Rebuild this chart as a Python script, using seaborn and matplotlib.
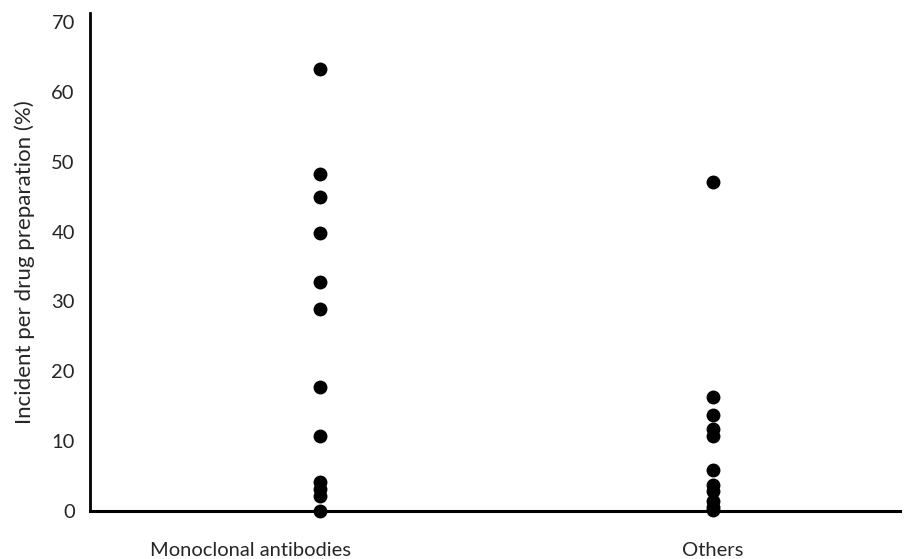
import numpy as np
import pandas as pd
import matplotlib
matplotlib.use("Agg")
import matplotlib.pyplot as plt
import seaborn as sns

# values
CATEGORIES = ["Monoclonal antibodies", "Others"]
mab_vals = [63.3, 48.2, 44.9, 39.8, 32.8, 28.9, 17.8, 10.8, 4.1, 3.1, 2.1, 0.0]
other_vals = [47.1, 16.3, 13.7, 11.7, 10.8, 5.8, 3.7, 2.8, 1.4, 0.6, 0.1]
Y_TICKS = [0, 10, 20, 30, 40, 50, 60, 70]

df = pd.DataFrame({
    "group": [CATEGORIES[0]] * len(mab_vals) + [CATEGORIES[1]] * len(other_vals),
    "value": mab_vals + other_vals,
})

sns.set_style("white")
plt.rcParams["font.family"] = ["Lato", "DejaVu Sans"]

fig = plt.figure(figsize=(9.05, 5.59), dpi=100)
ax = fig.add_axes([0.0995, 0.0859, 0.895, 0.891])

sns.stripplot(data=df, x="group", y="value", order=CATEGORIES,
              jitter=False, color="black", size=10, linewidth=0, ax=ax,
              clip_on=False, zorder=3)

ax.set_xlim(-0.585, 1.476)
ax.set_ylim(0, 71.3)
ax.set_yticks(Y_TICKS)
ax.set_yticklabels([str(t) for t in Y_TICKS], fontsize=14.5)
# category labels sit a bit off the dot columns in the original
ax.set_xticks([-0.176, 1])
ax.set_xticklabels(CATEGORIES, fontsize=14.5)
ax.tick_params(axis="x", length=0, pad=22)
ax.tick_params(axis="y", length=0, pad=11)

ax.set_xlabel("")
ax.set_ylabel("Incident per drug preparation (%)", fontsize=16, labelpad=12)

for s in ["top", "right"]:
    ax.spines[s].set_visible(False)
ax.spines["left"].set_linewidth(2.0)
ax.spines["bottom"].set_linewidth(2.2)
ax.spines["left"].set_color("black")
ax.spines["bottom"].set_color("black")

fig.savefig("out.png", dpi=100)
